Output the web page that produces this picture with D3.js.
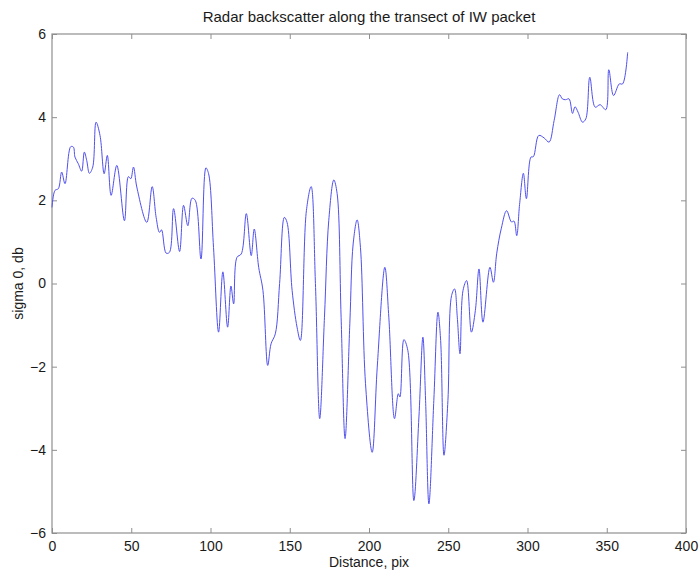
<!DOCTYPE html>
<html>
<head>
<meta charset="utf-8">
<script src="https://cdn.jsdelivr.net/npm/d3@7"></script>
<style>
  html, body { margin: 0; padding: 0; background: #fff; }
  svg { display: block; font-family: Arial, "Liberation Sans", sans-serif; }
</style>
</head>
<body>
<svg id="chart" width="699" height="572"></svg>
<script>
const titleText = "Radar backscatter along the transect of IW packet";
const xLabel = "Distance, pix";
const yLabel = "sigma 0, db";
const xTicks = [0, 50, 100, 150, 200, 250, 300, 350, 400];
const yTicks = [-6, -4, -2, 0, 2, 4, 6];

const distance = [
  0, 1.9, 4, 6.1, 8.2, 11.8, 13.5, 14.5, 16.6, 18.7, 20.4, 21.9, 23.6, 25.7, 27.8, 30.3, 32.9, 34.9, 37.3, 40.9,
  45.7, 48.2, 49.7, 51.4, 53.5, 59.8, 63.2, 65.7, 67.8, 69.1, 72, 74.1, 76.7, 80.5, 83, 85.7, 88.3, 90.4, 94, 97.1,
  98.8, 101.9, 105.1, 107.8, 110.8, 112.9, 114.6, 116.7, 119.4, 122.6, 125.7, 127.6, 130.4, 133.1, 136.1, 138.2, 140.9, 143.6, 146.6, 148.3,
  151.5, 154.6, 156.7, 160.5, 163.5, 166.2, 168.9, 171.9, 174.6, 177.8, 179.9, 182.4, 184.9, 187.9, 190, 192.5, 194.6, 197.8, 202, 205.2,
  210, 212.5, 216.1, 218.5, 219.5, 222, 224.5, 228.3, 231.5, 234, 235.7, 237.8, 240.9, 243.5, 245.2, 247.3, 249.8, 252.1, 254, 255.7,
  257.4, 259.3, 261.6, 264.6, 267.1, 269.4, 271.9, 276.3, 278.5, 280.6, 283.5, 286.8, 289.9, 291.5, 293.2, 295, 297.4, 299.3, 302.2, 303.7,
  307.1, 310.5, 313.6, 316.8, 320.2, 322, 324, 326.2, 328.4, 330, 331.9, 334.7, 336.8, 339.3, 342.7, 345.8, 349.4, 351.3, 354.3, 357.9,
  360, 363.2
];
const sigma0 = [
  1.83, 2.24, 2.28, 2.68, 2.40, 3.29, 3.28, 3.04, 2.88, 2.70, 3.16, 2.96, 2.65, 2.80, 3.88, 3.56, 2.64, 3.08, 2.12, 2.84,
  1.51, 2.57, 2.52, 2.80, 2.32, 1.47, 2.33, 1.59, 1.23, 1.29, 0.73, 0.75, 1.80, 0.77, 1.88, 1.39, 2.05, 2.00, 0.59, 2.78,
  2.64, 0.87, -1.17, 0.28, -1.05, -0.06, -0.49, 0.63, 0.71, 1.68, 0.67, 1.31, 0.39, -0.17, -1.97, -1.45, -1.21, 0.00, 1.59, 1.47,
  -0.17, -1.05, -1.37, 1.75, 2.33, 0.00, -3.25, -0.81, 1.51, 2.49, 2.16, -0.81, -3.73, -0.97, 0.95, 1.53, 0.87, -2.41, -4.06, -2.01,
  0.39, -0.81, -3.25, -2.65, -2.73, -1.35, -1.61, -5.22, -3.21, -1.29, -2.81, -5.30, -2.81, -0.69, -1.37, -4.13, -2.81, -0.29, -0.13, -0.81,
  -1.69, -0.17, 0.07, -1.17, -0.65, 0.35, -0.93, 0.39, 0.03, 0.73, 1.33, 1.75, 1.48, 1.50, 1.15, 1.90, 2.65, 2.04, 3.04, 3.05,
  3.56, 3.50, 3.40, 3.92, 4.54, 4.44, 4.42, 4.44, 4.09, 4.25, 4.12, 3.88, 3.96, 4.96, 4.24, 4.30, 4.18, 5.14, 4.52, 4.80,
  4.80, 5.56
];

const svg = d3.select("#chart");
const L = 52, R = 686, T = 34, B = 533;
const x = d3.scaleLinear().domain([0, 400]).range([L, R]);
const y = d3.scaleLinear().domain([-6, 6]).range([B, T]);
const frameColor = "#8f8f8f";
const tickLen = 5;
const textColor = "#1a1a1a";

// title
svg.append("text").attr("x", (L + R) / 2).attr("y", 22)
  .attr("text-anchor", "middle").attr("font-size", 15).attr("fill", textColor).text(titleText);

// axes
const xAxisB = d3.axisBottom(x).tickValues(xTicks).tickSize(-tickLen).tickPadding(8).tickFormat(d3.format("d"));
const xAxisT = d3.axisTop(x).tickValues(xTicks).tickSize(-tickLen).tickFormat("");
const yAxisL = d3.axisLeft(y).tickValues(yTicks).tickSize(-tickLen).tickPadding(6).tickFormat(d3.format("d"));
const yAxisR = d3.axisRight(y).tickValues(yTicks).tickSize(-tickLen).tickFormat("");

function style(g) {
  g.selectAll("path.domain").remove();
  g.selectAll(".tick line").attr("stroke", frameColor).attr("stroke-width", 1);
  g.selectAll(".tick text").attr("fill", textColor).attr("font-size", 14)
    .attr("font-family", "Arial, 'Liberation Sans', sans-serif");
}
svg.append("g").attr("transform", `translate(0,${B})`).call(xAxisB).call(style);
svg.append("g").attr("transform", `translate(0,${T})`).call(xAxisT).call(style);
svg.append("g").attr("transform", `translate(${L},0)`).call(yAxisL).call(style);
svg.append("g").attr("transform", `translate(${R},0)`).call(yAxisR).call(style);
svg.append("rect").attr("x", L).attr("y", T).attr("width", R - L).attr("height", B - T)
  .attr("fill", "none").attr("stroke", frameColor).attr("stroke-width", 1.2);

// line
const pts = distance.map((d, i) => [d, sigma0[i]]);
const line = d3.line().x(d => x(d[0])).y(d => y(d[1])).curve(d3.curveCatmullRom.alpha(0.5));
svg.append("path").datum(pts).attr("d", line)
  .attr("fill", "none").attr("stroke", "#5050ee").attr("stroke-width", 1);

// labels
svg.append("text").attr("x", (L + R) / 2).attr("y", 567)
  .attr("text-anchor", "middle").attr("font-size", 14).attr("fill", textColor).text(xLabel);
svg.append("text").attr("transform", `translate(23,${(T + B) / 2}) rotate(-90)`)
  .attr("text-anchor", "middle").attr("font-size", 14).attr("fill", textColor).text(yLabel);
</script>
</body>
</html>
